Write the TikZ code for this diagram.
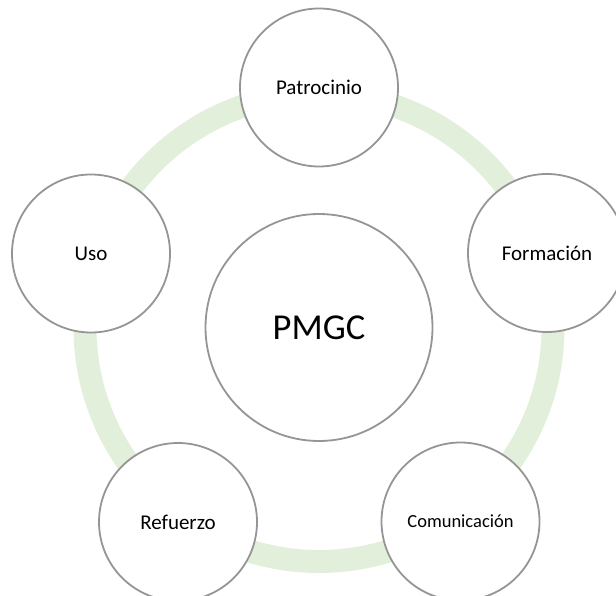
\documentclass[tikz,border=0pt]{standalone}
\usepackage{fontspec}
\setmainfont{Carlito}
\usepackage{xcolor}
\definecolor{ringgreen}{HTML}{E2EFDA}
\definecolor{rimgray}{HTML}{959595}
\tikzset{
	bubble/.style={circle, draw=rimgray, line width=1.8pt, fill=white, minimum size=158pt, inner sep=0pt, font=\fontsize{21}{25}\selectfont},
	hub/.style={bubble, minimum size=227pt, font=\fontsize{36.5}{44}\selectfont}
}
\begin{document}
\begin{tikzpicture}[x=1pt,y=-1pt]
	\useasboundingbox (0,0) rectangle (616,596);
	\draw[ringgreen, line width=23pt] (319,327.5) circle (234pt);
	\node[hub] (pmgc) at (319,327.5) {PMGC};
	\node[bubble] (patrocinio) at (319,87.5) {Patrocinio};
	\node[bubble] (formacion) at (547,253) {Formación};
	\node[bubble, font=\fontsize{18.5}{22}\selectfont] (comunicacion) at (460.5,521.5) {Comunicación};
	\node[bubble] (refuerzo) at (178,522) {Refuerzo};
	\node[bubble] (uso) at (91,253.5) {Uso};
\end{tikzpicture}
\end{document}
